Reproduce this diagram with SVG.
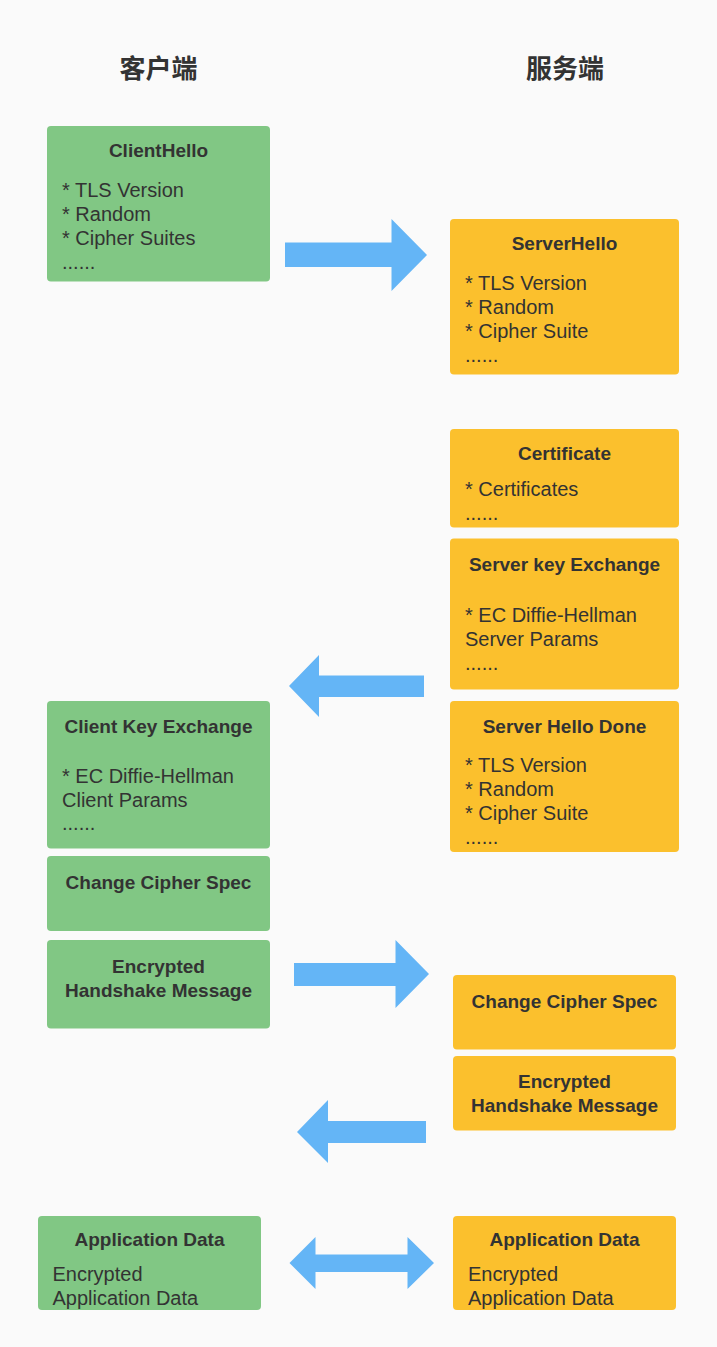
<svg xmlns="http://www.w3.org/2000/svg" width="717" height="1347" viewBox="0 0 717 1347">
<style>
.bg{fill:#fafafa}
.g{fill:#81c784}
.y{fill:#fbc02d}
.arr{fill:#64b5f6}
.h{font-family:"Noto Sans CJK SC","Liberation Sans",sans-serif;font-size:26px;font-weight:bold;fill:#333;text-anchor:middle}
.t{font-family:"Liberation Sans",Arial,sans-serif;font-size:19px;font-weight:bold;fill:#333;text-anchor:middle}
.b{font-family:"Liberation Sans",Arial,sans-serif;font-size:20px;fill:#333}
</style>
<rect class="bg" x="0" y="0" width="717" height="1347"/>
<g id="header-client"><text class="h" x="158.5" y="77.5">客户端</text></g>
<g id="header-server"><text class="h" x="565" y="77.5">服务端</text></g>

<g id="client-hello">
<rect class="g" x="47" y="126" width="223" height="155.5" rx="4"/>
<text class="t" x="158.5" y="157">ClientHello</text>
<text class="b" x="62" y="197">* TLS Version</text>
<text class="b" x="62" y="221">* Random</text>
<text class="b" x="62" y="245">* Cipher Suites</text>
<text class="b" x="62" y="269">......</text>
</g>

<g id="server-hello">
<rect class="y" x="450" y="219" width="229" height="155.5" rx="4"/>
<text class="t" x="564.5" y="250">ServerHello</text>
<text class="b" x="465" y="290">* TLS Version</text>
<text class="b" x="465" y="314">* Random</text>
<text class="b" x="465" y="338">* Cipher Suite</text>
<text class="b" x="465" y="362">......</text>
</g>

<g id="certificate">
<rect class="y" x="450" y="429" width="229" height="98.5" rx="4"/>
<text class="t" x="564.5" y="459.5">Certificate</text>
<text class="b" x="465" y="496">* Certificates</text>
<text class="b" x="465" y="519.5">......</text>
</g>

<g id="server-key-exchange">
<rect class="y" x="450" y="538.5" width="229" height="151" rx="4"/>
<text class="t" x="564.5" y="571">Server key Exchange</text>
<text class="b" x="465" y="622">* EC Diffie-Hellman</text>
<text class="b" x="465" y="646">Server Params</text>
<text class="b" x="465" y="669.5">......</text>
</g>

<g id="server-hello-done">
<rect class="y" x="450" y="701" width="229" height="151" rx="4"/>
<text class="t" x="564.5" y="732.5">Server Hello Done</text>
<text class="b" x="465" y="772">* TLS Version</text>
<text class="b" x="465" y="796">* Random</text>
<text class="b" x="465" y="820">* Cipher Suite</text>
<text class="b" x="465" y="843.5">......</text>
</g>

<g id="client-key-exchange">
<rect class="g" x="47" y="701" width="223" height="147.5" rx="4"/>
<text class="t" x="158.5" y="732.5">Client Key Exchange</text>
<text class="b" x="62" y="782.5">* EC Diffie-Hellman</text>
<text class="b" x="62" y="806.5">Client Params</text>
<text class="b" x="62" y="830">......</text>
</g>

<g id="client-change-cipher-spec">
<rect class="g" x="47" y="856" width="223" height="75" rx="4"/>
<text class="t" x="158.5" y="889">Change Cipher Spec</text>
</g>

<g id="client-encrypted-handshake">
<rect class="g" x="47" y="940" width="223" height="88.5" rx="4"/>
<text class="t" x="158.5" y="973">Encrypted</text>
<text class="t" x="158.5" y="997">Handshake Message</text>
</g>

<g id="server-change-cipher-spec">
<rect class="y" x="453" y="975" width="223" height="74.5" rx="4"/>
<text class="t" x="564.5" y="1008">Change Cipher Spec</text>
</g>

<g id="server-encrypted-handshake">
<rect class="y" x="453" y="1056" width="223" height="74.5" rx="4"/>
<text class="t" x="564.5" y="1088">Encrypted</text>
<text class="t" x="564.5" y="1112">Handshake Message</text>
</g>

<g id="client-application-data">
<rect class="g" x="38" y="1216" width="223" height="94" rx="4"/>
<text class="t" x="149.5" y="1245.5">Application Data</text>
<text class="b" x="52.5" y="1281">Encrypted</text>
<text class="b" x="52.5" y="1305">Application Data</text>
</g>

<g id="server-application-data">
<rect class="y" x="453" y="1216" width="223" height="94" rx="4"/>
<text class="t" x="564.5" y="1245.5">Application Data</text>
<text class="b" x="468" y="1281">Encrypted</text>
<text class="b" x="468" y="1305">Application Data</text>
</g>

<g id="connectors">
<polygon class="arr" points="285,242.5 391.5,242.5 391.5,219 427,255 391.5,291 391.5,267 285,267"/>
<polygon class="arr" points="424,675.5 319,675.5 319,655 289,686 319,717 319,697 424,697"/>
<polygon class="arr" points="294,963 395.5,963 395.5,940 429,974 395.5,1008 395.5,986 294,986"/>
<polygon class="arr" points="426,1121 328,1121 328,1100 297,1132 328,1163 328,1143 426,1143"/>
<polygon class="arr" points="289.5,1263 315.5,1237 315.5,1254.5 407.5,1254.5 407.5,1237 434,1263 407.5,1289 407.5,1272 315.5,1272 315.5,1289"/>
</g>
</svg>
